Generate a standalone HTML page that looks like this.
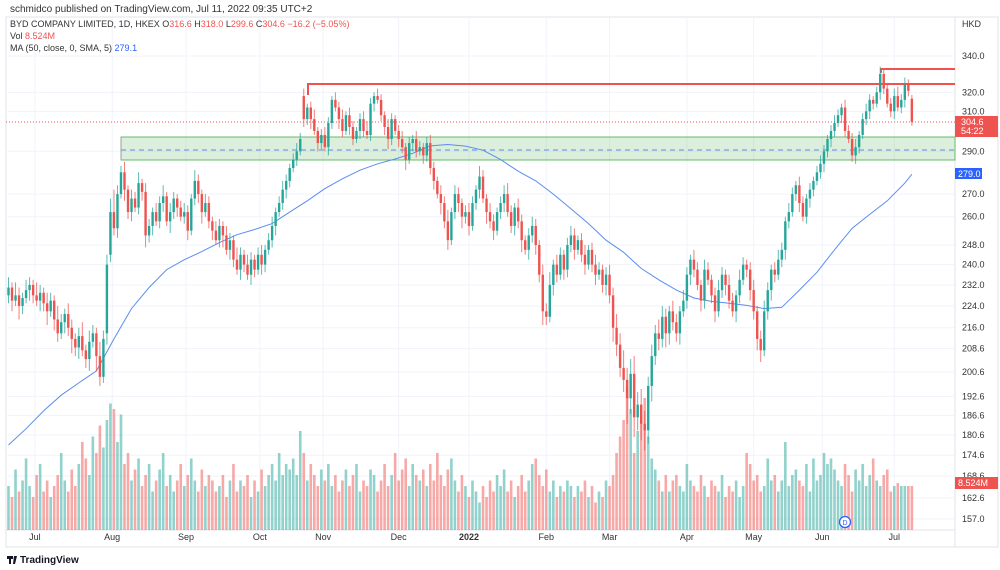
<!DOCTYPE html>
<html><head><meta charset="utf-8">
<style>
body{margin:0;background:#fff;font-family:"Liberation Sans",sans-serif;}
#wrap{position:relative;width:1000px;height:570px;overflow:hidden;}
svg text{font-family:"Liberation Sans",sans-serif;}
</style></head>
<body>
<div id="wrap">
<svg id="chart" width="1000" height="570">
<text x="10" y="12" font-size="10" fill="#333">schmidco published on TradingView.com, Jul 11, 2022 09:35 UTC+2</text>
<rect x="6" y="17" width="992" height="530" fill="none" stroke="#e0e3eb"/>
<line x1="955" y1="17" x2="955" y2="547" stroke="#e0e3eb"/>
<line x1="6" y1="530" x2="955" y2="530" stroke="#e0e3eb"/>
<g id="grid"></g>
<g id="zones">
<rect x="121" y="137" width="834" height="23" fill="rgba(76,175,80,0.2)" stroke="#66bb6a" stroke-width="1"/>
<line x1="121" y1="137" x2="121" y2="160" stroke="#9e9e9e"/>
<line x1="121" y1="150" x2="955" y2="150" stroke="#5b8def" stroke-dasharray="5,4"/>
<polyline points="308,95 308,84 955,84" fill="none" stroke="#ef5350" stroke-width="2"/>
<polyline points="881,73 881,69 955,69" fill="none" stroke="#ef5350" stroke-width="2"/>
<line x1="6" y1="122" x2="955" y2="122" stroke="#ef5350" stroke-dasharray="1,2"/>
</g>
<g id="vol"></g>
<path id="maPath" fill="none" stroke="#5b8def" stroke-width="1"/>
<g id="candles"></g>
<g id="yaxis"></g>
<g id="xaxis"></g>
<text x="962" y="27" font-size="9" fill="#333">HKD</text>
<g>
<text x="10" y="27" font-size="9" fill="#333">BYD COMPANY LIMITED, 1D, HKEX <tspan fill="#333">O</tspan><tspan fill="#ef5350">316.6</tspan> <tspan fill="#333">H</tspan><tspan fill="#ef5350">318.0</tspan> <tspan fill="#333">L</tspan><tspan fill="#ef5350">299.6</tspan> <tspan fill="#333">C</tspan><tspan fill="#ef5350">304.6 −16.2 (−5.05%)</tspan></text>
<text x="10" y="39" font-size="9" fill="#333">Vol <tspan fill="#ef5350">8.524M</tspan></text>
<text x="10" y="51" font-size="9" fill="#333">MA (50, close, 0, SMA, 5) <tspan fill="#2962ff">279.1</tspan></text>
</g>
<g>
<rect x="955" y="116" width="43" height="21" fill="#ef5350"/>
<text x="961" y="125" font-size="9" fill="#fff">304.6</text>
<text x="961" y="134" font-size="9" fill="#fff">54:22</text>
</g>
<g>
<rect x="955" y="168" width="27" height="11" fill="#2962ff"/>
<text x="958" y="177" font-size="9" fill="#fff">279.0</text>
</g>
<g>
<rect x="955" y="477" width="43" height="12" fill="#ef5350"/>
<text x="958" y="486" font-size="9" fill="#fff">8.524M</text>
</g>
<g>
<circle cx="845" cy="522" r="5.5" fill="#fff" stroke="#2962ff" stroke-width="1.3"/>
<text x="845" y="525" font-size="7" fill="#2962ff" text-anchor="middle">D</text>
</g>
<g>
<path d="M7 556h6v3h-2v5h-2v-5H7z M14 556h3l-2 8h-2z" fill="#131722"/>
<text x="20" y="563" font-size="10" fill="#131722" font-weight="bold">TradingView</text>
</g>
</svg>
</div>
<script>
const closes=[231,226,228,224,227,230,232,228,226,229,
225,222,226,219,214,218,221,216,212,209,
213,208,205,211,214,206,199,212,240,262,
255,270,280,272,262,268,264,275,271,252,
256,262,258,266,269,258,262,268,264,260,
262,254,268,276,270,262,266,258,254,250,
256,252,246,250,242,238,244,240,236,242,
238,244,240,246,250,256,262,266,272,276,
282,286,290,296,306,312,306,300,294,298,
292,304,316,312,306,300,308,302,296,300,
306,300,298,314,318,316,308,302,296,306,
300,296,292,286,294,296,290,292,288,294,
282,276,270,266,258,250,262,270,266,260,
262,256,266,272,278,268,262,258,254,262,
266,270,262,256,264,258,250,246,252,256,
248,236,222,220,232,240,236,244,238,248,
252,246,250,244,240,246,240,236,238,232,
236,228,216,210,202,198,192,200,186,190,
184,182,196,206,214,212,220,214,222,218,
214,222,226,236,242,238,232,226,238,234,
228,222,230,236,232,226,222,228,234,240,
238,230,222,212,208,222,230,238,236,242,
246,258,262,270,274,266,260,268,272,276,
280,284,290,296,300,304,308,312,300,296,
288,292,298,306,310,316,314,320,330,322,
314,310,318,312,316,324,320.8,304.6];
const opens=[228,231,226,228,224,227,230,232,228,226,
229,225,222,226,219,214,218,221,216,212,
209,213,208,205,211,214,206,199,214,244,
262,255,270,280,272,262,268,264,275,271,
252,256,262,258,266,269,258,262,268,264,
260,262,254,268,276,270,262,266,258,254,
250,256,252,246,250,242,238,244,240,236,
242,238,244,240,246,250,256,262,266,272,
276,282,286,290,318,306,312,306,300,294,
298,292,304,316,312,306,300,308,302,296,
300,306,300,298,314,318,316,308,302,296,
306,300,296,292,286,294,296,290,292,288,
294,282,276,270,266,258,250,262,270,266,
260,262,256,266,272,278,268,262,258,254,
262,266,270,262,256,264,258,250,246,252,
256,248,236,222,220,232,240,236,244,238,
248,252,246,250,244,240,246,240,236,238,
232,236,228,216,210,202,198,192,200,186,
190,184,182,196,206,214,212,220,214,222,
218,214,222,226,236,242,238,232,226,238,
234,228,222,230,236,232,226,222,228,234,
240,238,230,222,212,208,222,230,238,236,
242,246,258,262,270,274,266,260,268,272,
276,280,284,290,296,300,304,308,312,300,
296,288,292,298,306,310,316,314,320,330,
322,314,310,318,312,316,324,316.6];
const wickUp=[4,2,5,3,2,4,3,2,5,3,2,4,3,2,5,3,2,4,3,2,3,5,2,4,3,2,5,3,4,6,10,4,3,5,2,4,3,5,2,4,3,2,4,3,5,2,4,3,2,3,4,3,2,5,3,2,4,3,2,4,3,2,4,3,2,5,3,2,4,3,2,3,4,2,3,4,2,3,4,3,2,3,4,3,4,2,3,5,2,3,4,3,2,4,3,5,2,4,3,2,3,4,5,3,2,4,3,2,4,3,2,3,4,2,3,2,4,3,2,3,4,3,2,4,3,5,2,4,3,2,3,4,3,2,5,3,2,4,3,2,3,4,5,3,2,4,3,2,3,4,3,2,4,3,5,2,4,3,2,3,4,3,2,3,4,2,3,4,3,2,3,4,3,5,4,6,4,5,6,4,5,4,3,4,3,5,4,3,2,4,3,2,4,3,2,4,3,2,4,3,2,3,4,3,2,4,3,2,4,3,2,3,4,2,3,4,3,2,3,4,3,2,4,3,2,4,3,2,3,2,3,4,3,2,3,4,3,2,4,3,3,4,2,3,4,3,2,3,4,3,2,3,4,5,3,4,3,2,4,3,3,2,4,3,2,5,3,1.4];
const wickDn=[3,4,2,5,3,2,4,3,2,4,3,5,2,4,3,2,4,3,5,3,4,2,3,4,2,5,3,2,4,3,3,4,2,5,3,4,2,3,4,5,3,4,2,3,4,2,5,3,4,2,3,4,2,3,4,5,2,3,4,2,3,5,2,4,3,2,4,3,2,4,3,2,4,3,2,3,4,2,3,4,3,2,3,2,4,3,5,2,4,3,2,4,3,2,5,3,2,4,3,2,4,3,2,3,4,2,3,4,5,3,2,4,3,5,2,4,3,2,4,3,3,4,2,5,3,4,2,3,4,5,3,4,2,3,4,2,5,3,4,2,3,4,2,3,4,3,5,2,4,3,4,3,5,3,2,4,3,2,4,3,3,4,2,3,4,2,3,4,2,3,4,3,5,4,3,4,8,5,6,4,5,6,4,5,3,4,3,5,4,3,3,4,2,3,4,3,2,4,3,2,3,4,2,3,4,3,2,4,3,2,3,4,3,4,4,2,3,4,3,2,3,4,3,2,3,4,2,3,4,3,2,3,4,3,4,3,2,4,3,2,3,4,3,2,3,4,3,2,4,3,2,3,4,2,3,4,3,2,4,3,3,4,2,3,4,3,2,5];
const volumes=[8,6,11,7,9,13,8,6,10,12,7,9,6,8,10,14,9,7,11,8,12,16,13,10,17,14,19,15,20,23,
22,16,21,12,14,9,11,13,8,10,12,7,9,11,14,8,10,7,9,12,8,10,13,9,7,11,8,10,9,7,
8,10,6,9,12,7,9,8,10,6,9,7,11,8,10,12,9,14,10,12,11,13,10,18,14,9,12,10,8,11,
9,12,8,10,7,9,11,8,10,12,7,9,8,11,10,7,9,12,8,10,14,9,11,13,8,12,10,9,11,8,
12,9,14,10,8,11,13,9,7,10,8,6,9,7,5,8,6,9,7,10,8,11,7,9,6,8,10,7,9,12,
13,10,8,11,7,9,6,8,7,9,8,6,8,7,9,6,8,5,7,6,9,8,10,14,17,20,26,22,14,18,
21,24,17,13,11,9,7,10,7,9,10,8,7,12,9,8,
7,10,8,6,9,8,7,10,6,8,7,9,6,8,14,12,9,10,7,8,13,9,10,7,9,16,8,10,11,9,
8,12,7,13,9,10,14,12,13,11,9,8,12,10,7,11,9,12,8,10,13,9,8,10,11,7,8,8.524];
const maValues=[177.6,182.5,188,193,197,201,212,223,231,238,242,245.3,249,252.3,254.5,257,262,267,272.5,277,281,284,286.3,289,292.6,293.3,292.5,290.5,286,280.5,276,270,263.5,257,250,245,238.5,234,230,227,225.7,225,224.2,223,223.5,230,237,246,255,261,267,275,279.1];
const priceTicks=["340.0","320.0","310.0","290.0","270.0","260.0","248.0","240.0","232.0","224.0","216.0","208.6","200.6","192.6","186.6","180.6","174.6","168.6","162.6","157.0"];
const monthLabels=["Jul","Aug","Sep","Oct","Nov","Dec","2022","Feb","Mar","Apr","May","Jun","Jul"];
const monthStartBars=[7.5,29.5,50.5,71.5,89.5,111,131,153,171,193,212,231.5,252];

const NS="http://www.w3.org/2000/svg";
function yOf(p){return 56+599*Math.log(340/p);}
function xOf(i){return 8.5+i*3.515;}
function vy(v){return 530-v*5.5;}
function mk(tag,attrs,parent){const e=document.createElementNS(NS,tag);for(const k in attrs)e.setAttribute(k,attrs[k]);parent.appendChild(e);return e;}

const grid=document.getElementById('grid');
const yaxis=document.getElementById('yaxis');
priceTicks.forEach(t=>{
  const y=yOf(parseFloat(t));
  const gl=mk('line',{x1:6,x2:955,y1:y,y2:y,stroke:'#f0f3fa'},grid);
  
  
  const tx=mk('text',{x:962,y:y+3,'font-size':9,fill:'#333'},yaxis);
  tx.textContent=t;
  
  
});
const xaxis=document.getElementById('xaxis');
monthLabels.forEach((m,k)=>{
  const x=xOf(monthStartBars[k]);
  const gl=mk('line',{x1:x,x2:x,y1:17,y2:530,stroke:'#f0f3fa'},grid);
  
  
  const tx=mk('text',{x:x,y:540,'font-size':9,fill:'#333','text-anchor':'middle','font-weight':m==='2022'?'bold':'normal'},xaxis);
  tx.textContent=m;
  
  
});

const volG=document.getElementById('vol');
const cG=document.getElementById('candles');
closes.forEach((c,i)=>{
  const o=opens[i];
  const up=c>=o;
  const x=xOf(i);
  const hi=Math.max(o,c)+(wickUp[i]??3);
  const lo=Math.min(o,c)-(wickDn[i]??3);
  const v=volumes[i]??8;
  const vb=mk('rect',{x:x-1.3,y:vy(v),width:2.6,height:530-vy(v),fill:up?'rgba(38,166,154,0.5)':'rgba(239,83,80,0.5)'},volG);
  
  
  const col=up?'#26a69a':'#ef5350';
  const wk=mk('line',{x1:x,x2:x,y1:yOf(hi),y2:yOf(lo),stroke:col,'stroke-width':1,opacity:0.75},cG);
  
  
  const top=yOf(Math.max(o,c)),bot=yOf(Math.min(o,c));
  const bd=mk('rect',{x:x-1.2,y:top,width:2.4,height:Math.max(1,bot-top),fill:col},cG);
  
  
});
let d='';
maValues.forEach((v,k)=>{const i=Math.min(k*5,closes.length-1);d+=(k?'L':'M')+xOf(i).toFixed(1)+','+yOf(v).toFixed(1);});
document.getElementById('maPath').setAttribute('d',d);
</script>
</body></html>
